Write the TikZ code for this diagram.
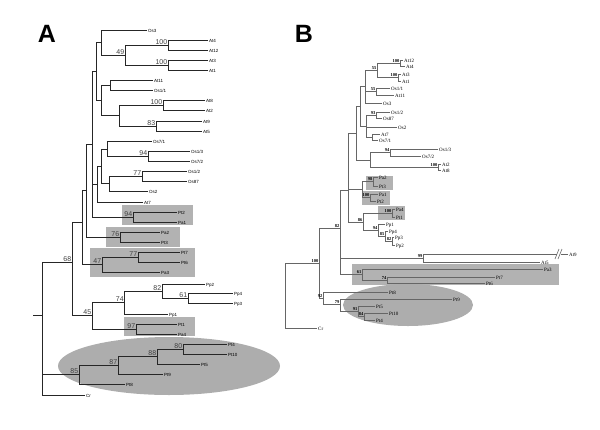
\documentclass[tikz,border=0pt]{standalone}
\usepackage{fontspec}
\setmainfont{Liberation Serif}
\setsansfont{Liberation Sans}
\begin{document}
\begin{tikzpicture}[x=1pt,y=-1pt,
  brancheA/.style={draw=black!85,line width=0.9pt},
  brancheB/.style={draw=black!60,line width=0.5pt},
  feuilleA/.style={anchor=west,inner sep=1pt,font=\sffamily\fontsize{4.5}{5}\selectfont,text height=0.72em,text depth=0.2em},
  feuilleB/.style={anchor=west,inner sep=1pt,font=\rmfamily\fontsize{5}{6}\selectfont,text height=0.68em,text depth=0.2em},
  appuiA/.style={anchor=south east,inner sep=0.6pt,font=\sffamily\fontsize{7}{8}\selectfont,text=black!75},
  appuiB/.style={anchor=south east,inner sep=0.4pt,font=\rmfamily\bfseries\fontsize{4.5}{5}\selectfont},
  boite/.style={fill=black!30,draw=none},
  bulle/.style={fill=black!32,draw=none},
  lettre/.style={font=\sffamily\bfseries\fontsize{25}{25}\selectfont}]
\useasboundingbox (0,0) rectangle (600,429);
\node[lettre] (lA) at (47,34) {A};
\node[lettre] (lB) at (304,34) {B};
% arbre A
\fill[boite] (122,205) rectangle (193,225);
\fill[boite] (106,227) rectangle (180,247);
\fill[boite] (90,248) rectangle (195,277);
\fill[boite] (124,317) rectangle (195,336);
\fill[bulle] (169,366) ellipse [x radius=111,y radius=29];
\coordinate (rA0) at (33,315);
\coordinate (rA) at (42,315);
\coordinate (a68) at (72,262);
\coordinate (a12) at (82,222);
\coordinate (a11) at (86,190);
\coordinate (a10) at (92,144);
\coordinate (a5) at (96,71);
\coordinate (a1) at (101.7,42.5);
\coordinate (a49) at (125,55);
\coordinate (a100a) at (168,45);
\coordinate (a100b) at (168,65);
\coordinate (a4) at (101.7,100);
\coordinate (a2) at (110,85);
\coordinate (a3) at (119,115.5);
\coordinate (a100c) at (163,105);
\coordinate (a83) at (156,126);
\coordinate (a9) at (97.5,184);
\coordinate (a8) at (101.5,166);
\coordinate (a6) at (107,149);
\coordinate (a94) at (148,156);
\coordinate (a7) at (109,183.5);
\coordinate (a77) at (142,176);
\coordinate (b94) at (133,217);
\coordinate (b76) at (120,237);
\coordinate (b47) at (102,264.5);
\coordinate (b77) at (138,257);
\coordinate (a45) at (92,315);
\coordinate (a74) at (124.5,302.5);
\coordinate (a82) at (162,291);
\coordinate (a61) at (188,298);
\coordinate (b97) at (136,329);
\coordinate (a85) at (79,374.5);
\coordinate (e87) at (118,365);
\coordinate (e88) at (157,356);
\coordinate (e80) at (183,349);
\node[feuilleA] (AOs3) at (147,30) {Os3};
\node[feuilleA] (AAt4) at (208,40) {At4};
\node[feuilleA] (AAt12) at (208,50) {At12};
\node[feuilleA] (AAt3) at (208,60) {At3};
\node[feuilleA] (AAt1) at (208,70) {At1};
\node[feuilleA] (AAt11) at (153,80) {At11};
\node[feuilleA] (AOs11) at (153,90) {Os1/1};
\node[feuilleA] (AAt8) at (205,100) {At8};
\node[feuilleA] (AAt2) at (205,110) {At2};
\node[feuilleA] (AAt9) at (202,121) {At9};
\node[feuilleA] (AAt5) at (202,131) {At5};
\node[feuilleA] (AOs71) at (152,141) {Os7/1};
\node[feuilleA] (AOs13) at (190,151) {Os1/3};
\node[feuilleA] (AOs72) at (190,161) {Os7/2};
\node[feuilleA] (AOs12) at (187,171) {Os1/2};
\node[feuilleA] (AOs87) at (187,181) {Os87};
\node[feuilleA] (AOs2) at (148,191) {Os2};
\node[feuilleA] (AAt7) at (143,202) {At7};
\node[feuilleA] (APt2) at (177,212) {Pt2};
\node[feuilleA] (APa1) at (177,222) {Pa1};
\node[feuilleA] (APa2) at (160,232) {Pa2};
\node[feuilleA] (APt3) at (160,242) {Pt3};
\node[feuilleA] (APt7) at (180,252) {Pt7};
\node[feuilleA] (APt6) at (180,262) {Pt6};
\node[feuilleA] (APa3) at (160,272) {Pa3};
\node[feuilleA] (APp2) at (205,284) {Pp2};
\node[feuilleA] (APp4) at (233,293) {Pp4};
\node[feuilleA] (APp3) at (233,303) {Pp3};
\node[feuilleA] (APp1) at (168,314) {Pp1};
\node[feuilleA] (APt1) at (177,324) {Pt1};
\node[feuilleA] (APa4) at (177,334) {Pa4};
\node[feuilleA] (APt4) at (227,344) {Pt4};
\node[feuilleA] (APt10) at (227,354) {Pt10};
\node[feuilleA] (APt5) at (200,364) {Pt5};
\node[feuilleA] (APt9) at (163,374) {Pt9};
\node[feuilleA] (APt8) at (125,384) {Pt8};
\node[feuilleA] (ACr) at (85,395) {Cr};
\draw[brancheA] (rA0) -- (rA);
\foreach \p/\c in {rA/a68,rA/a85,rA/ACr,a68/a12,a68/a45,a12/a11,a12/b47,a11/a10,a11/b76,a10/a5,a10/a9,a10/b94,
  a5/a1,a5/a4,a1/AOs3,a1/a49,a49/a100a,a49/a100b,a100a/AAt4,a100a/AAt12,a100b/AAt3,a100b/AAt1,
  a4/a2,a4/a3,a2/AAt11,a2/AOs11,a3/a100c,a3/a83,a100c/AAt8,a100c/AAt2,a83/AAt9,a83/AAt5,
  a9/a8,a9/AAt7,a8/a6,a8/a7,a6/AOs71,a6/a94,a94/AOs13,a94/AOs72,a7/a77,a7/AOs2,a77/AOs12,a77/AOs87,
  b94/APt2,b94/APa1,b76/APa2,b76/APt3,b47/b77,b47/APa3,b77/APt7,b77/APt6,
  a45/a74,a45/b97,a74/a82,a74/APp1,a82/APp2,a82/a61,a61/APp4,a61/APp3,b97/APt1,b97/APa4,
  a85/e87,a85/APt8,e87/e88,e87/APt9,e88/e80,e88/APt5,e80/APt4,e80/APt10}
  \draw[brancheA] (\p) |- (\c);
\foreach \n/\v in {a49/49,a100a/100,a100b/100,a100c/100,a83/83,a94/94,a77/77,b94/94,b76/76,b47/47,b77/77,
  a68/68,a82/82,a61/61,a74/74,a45/45,b97/97,a85/85,e87/87,e88/88,e80/80}
  \node[appuiA] (sA\n) at (\n) {\v};
% arbre B
\fill[boite] (366,176) rectangle (393,190);
\fill[boite] (362,191) rectangle (390,205);
\fill[boite] (378,206) rectangle (405,220);
\fill[boite] (352,264) rectangle (559,285);
\fill[bulle] (408,305) ellipse [x radius=65,y radius=21];
\coordinate (rB) at (285,295.5);
\coordinate (n100r) at (319,263);
\coordinate (n82) at (340,228);
\coordinate (u6) at (348,190);
\coordinate (u5) at (356,133);
\coordinate (u3) at (360,106);
\coordinate (u1) at (365,86);
\coordinate (n55a) at (377,70);
\coordinate (n100a) at (400,63);
\coordinate (n100b) at (398,77.5);
\coordinate (n55b) at (376,91.5);
\coordinate (u2) at (366,126);
\coordinate (n93) at (376,115);
\coordinate (u7) at (372,137);
\coordinate (u4) at (370,160);
\coordinate (n94) at (390,152.5);
\coordinate (n100c) at (438,167);
\coordinate (u8) at (362,189.5);
\coordinate (n98) at (373,181.5);
\coordinate (n100d) at (370,197.5);
\coordinate (n86) at (363,222);
\coordinate (n100e) at (392,213);
\coordinate (n94b) at (378,230);
\coordinate (n85) at (385,236);
\coordinate (n82b) at (392,241);
\coordinate (n99) at (423,258);
\coordinate (n61) at (362,274.5);
\coordinate (n74) at (387,280);
\coordinate (n92) at (323,298);
\coordinate (n79) at (340,304.5);
\coordinate (n91) at (358,311);
\coordinate (n84) at (364,316.5);
\node[feuilleB] (BAt12) at (403,60) {At12};
\node[feuilleB] (BAt4) at (405,66) {At4};
\node[feuilleB] (BAt3) at (401,74) {At3};
\node[feuilleB] (BAt1) at (401,81) {At1};
\node[feuilleB] (BOs11) at (390,88) {Os1/1};
\node[feuilleB] (BAt11) at (394,95) {At11};
\node[feuilleB] (BOs3) at (382,103) {Os3};
\node[feuilleB] (BOs12) at (390,112) {Os1/2};
\node[feuilleB] (BOs87) at (382,118) {Os87};
\node[feuilleB] (BOs2) at (397,127) {Os2};
\node[feuilleB] (BAt7) at (380,134) {At7};
\node[feuilleB] (BOs71) at (378,140) {Os7/1};
\node[feuilleB] (BOs13) at (438,149) {Os1/3};
\node[feuilleB] (BOs72) at (421,156) {Os7/2};
\node[feuilleB] (BAt2) at (441,164) {At2};
\node[feuilleB] (BAt8) at (441,170) {At8};
\node[feuilleB] (BPa2) at (378,177) {Pa2};
\node[feuilleB] (BPt3) at (378,186) {Pt3};
\node[feuilleB] (BPa1) at (378,194) {Pa1};
\node[feuilleB] (BPt2) at (376,201) {Pt2};
\node[feuilleB] (BPa4) at (395,209) {Pa4};
\node[feuilleB] (BPt1) at (395,217) {Pt1};
\node[feuilleB] (BPp1) at (385,224) {Pp1};
\node[feuilleB] (BPp4) at (388,231) {Pp4};
\node[feuilleB] (BPp3) at (394,237) {Pp3};
\node[feuilleB] (BPp2) at (395,245) {Pp2};
\node[feuilleB] (BAt9) at (568,254) {At9};
\node[feuilleB] (BAt5) at (540,262) {At5};
\node[feuilleB] (BPa3) at (543,269) {Pa3};
\node[feuilleB] (BPt7) at (495,277) {Pt7};
\node[feuilleB] (BPt6) at (485,283) {Pt6};
\node[feuilleB] (BPt8) at (388,292) {Pt8};
\node[feuilleB] (BPt9) at (452,299) {Pt9};
\node[feuilleB] (BPt5) at (375,306) {Pt5};
\node[feuilleB] (BPt10) at (388,313) {Pt10};
\node[feuilleB] (BPt4) at (375,320) {Pt4};
\node[feuilleB] (BCr) at (317,328) {Cr};
\foreach \p/\c in {rB/n100r,rB/BCr,n100r/n82,n100r/n92,n82/u6,n82/n99,n82/n61,u6/u5,u6/u8,u6/n86,
  u5/u3,u5/u4,u3/u1,u3/u2,u1/n55a,u1/n55b,u1/BOs3,n55a/n100a,n55a/n100b,n100a/BAt12,n100a/BAt4,
  n100b/BAt3,n100b/BAt1,n55b/BOs11,n55b/BAt11,u2/n93,u2/BOs2,u2/u7,n93/BOs12,n93/BOs87,u7/BAt7,u7/BOs71,
  u4/n94,u4/n100c,n94/BOs13,n94/BOs72,n100c/BAt2,n100c/BAt8,u8/n98,u8/n100d,n98/BPa2,n98/BPt3,
  n100d/BPa1,n100d/BPt2,n86/n100e,n86/n94b,n100e/BPa4,n100e/BPt1,n94b/BPp1,n94b/n85,n85/BPp4,n85/n82b,
  n82b/BPp3,n82b/BPp2,n99/BAt9,n99/BAt5,n61/BPa3,n61/n74,n74/BPt7,n74/BPt6,
  n92/BPt8,n92/n79,n79/BPt9,n79/n91,n91/BPt5,n91/n84,n84/BPt10,n84/BPt4}
  \draw[brancheB] (\p) |- (\c);
\draw[white,line width=1.2pt] (557,254) -- (560.5,254);
\draw[brancheB,line width=0.6pt] (555,259) -- (559,249) (558,259) -- (562,249);
\foreach \n/\v in {n100a/100,n100b/100,n55a/55,n55b/55,n93/93,n94/94,n100c/100,n98/98,n100d/100,n100e/100,
  n86/86,n94b/94,n85/85,n82b/82,n82/82,n100r/100,n99/99,n61/61,n74/74,n92/92,n79/79,n91/91,n84/84}
  \node[appuiB] (sB\n) at (\n) {\v};
\end{tikzpicture}
\end{document}
